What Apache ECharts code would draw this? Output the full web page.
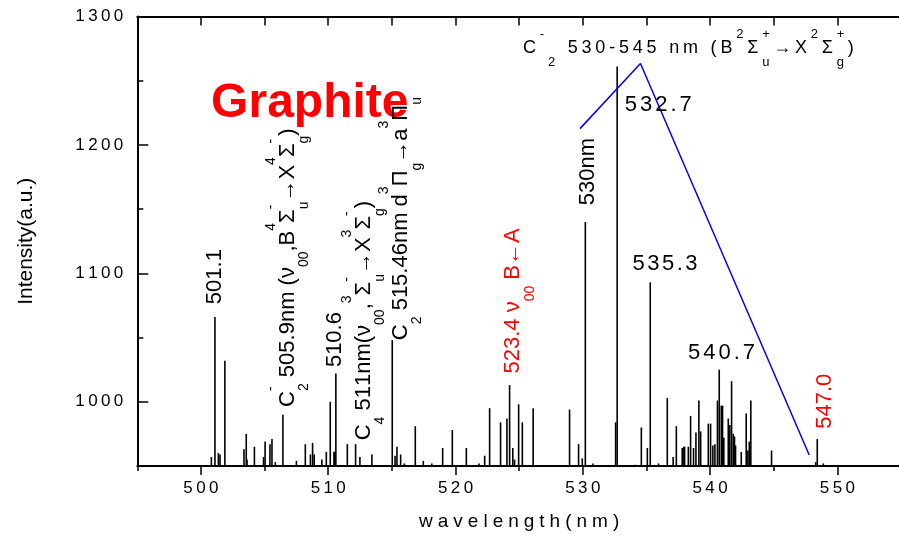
<!DOCTYPE html>
<html>
<head>
<meta charset="utf-8">
<script src="https://cdn.jsdelivr.net/npm/echarts@6/dist/echarts.min.js"></script>
<style>
  html, body { margin: 0; padding: 0; background: #ffffff; }
  #chart { width: 899px; height: 538px; }
</style>
</head>
<body>
<div id="chart"></div>
<script>
// Emission lines of the graphite plasma: wavelength (nm) and peak intensity (a.u.)
const wavelengths = [
  500.82, 501.10, 501.37, 501.50, 501.88,
  503.38, 503.56, 503.62, 504.20, 504.92, 505.04, 505.42, 505.58, 505.84, 506.44,
  507.50, 508.20, 508.60, 508.77, 508.90, 509.50, 509.85, 510.16, 510.45, 510.52, 510.60,
  511.50, 512.15, 512.49, 513.43,
  515.03, 515.25, 515.40, 515.69, 515.98, 516.84, 517.47, 518.14, 518.99, 519.75, 520.85,
  521.84, 522.29, 522.68, 523.54, 524.04, 524.25, 524.50, 524.64, 524.96, 525.25, 526.10,
  528.96, 529.67, 529.96, 530.20, 530.80, 532.58, 532.70, 534.13, 534.60, 535.07, 535.30, 535.95,
  536.64, 537.10, 537.35, 537.81, 537.94, 538.00, 538.29, 538.47, 538.70, 538.89, 539.12, 539.26,
  539.86, 540.04, 540.22, 540.38, 540.58, 540.72, 540.88, 540.98, 541.08, 541.43, 541.55, 541.69,
  541.82, 541.92, 542.00, 542.45, 542.84, 542.97, 543.08, 543.20, 544.83,
  548.30, 548.42, 548.90
];
const intensities = [
  957, 1066, 960, 959, 1032,
  963, 975, 955, 965, 957, 969, 967, 971, 953, 990,
  954, 967, 959, 968, 959, 955, 961, 1000, 961, 961, 1022,
  967, 967, 957, 959,
  1048, 958, 965, 959, 952, 981, 954, 952, 964, 978, 964,
  952, 958, 995, 984, 987, 1013, 964, 955, 998, 984, 995,
  994, 967, 956, 1140, 952, 984, 1261, 951, 980, 964, 1093, 952,
  1003, 957, 981, 964, 965, 965, 965, 989, 964, 976, 1001, 977,
  983, 983, 966, 967, 1001, 1025, 997, 997, 972, 987, 982, 1016,
  975, 973, 966, 961, 991, 962, 969, 1001, 962,
  953, 971, 952
];

// Axis ticks
const xTicks = [500, 510, 520, 530, 540, 550];
const xMinorTicks = [495, 505, 515, 525, 535, 545, 555];
const yTicks = [1000, 1100, 1200, 1300];
const yMinorTicks = [1050, 1150, 1250];

// Blue guide marking the C2 Swan band region (nm, a.u.)
const bandGuideX = [529.78, 534.53, 547.79];
const bandGuideY = [1212.7, 1263.4, 958.6];

const FONT = '"Liberation Sans", Arial, Helvetica, sans-serif';
const BLACK = '#000000';
const RED = '#ff0000';
const BLUE = '#0000ff';

// one rich token per character, so padding acts as letter spacing
function spaced(str, k, last) {
  const chars = Array.from(String(str));
  return chars.map((c, i) => '{' + (i < chars.length - 1 ? k : last) + '|' + c + '}').join('');
}
function tokens(parts) {
  let s = '';
  for (const [k, t] of parts) for (const ch of Array.from(t)) s += '{' + k + '|' + ch + '}';
  return s;
}
// normal / superscript / subscript styles; q and m are superscripts stacked over the next subscript
function richSet(o) {
  const base = { fontFamily: FONT, fill: o.color, color: o.color };
  const g = o.gap || 0;
  return {
    n: Object.assign({}, base, { fontSize: o.size, lineHeight: o.L, verticalAlign: 'middle', padding: [0, g, 0, 0] }),
    p: Object.assign({}, base, { fontSize: o.small, lineHeight: o.supH, verticalAlign: 'top', padding: [0, g, 0, 0] }),
    b: Object.assign({}, base, { fontSize: o.small, lineHeight: o.subH, verticalAlign: 'bottom', padding: [0, g, 0, 0] }),
    q: Object.assign({}, base, { fontSize: o.small, lineHeight: o.supH, verticalAlign: 'top', padding: [0, -0.584 * o.small, 0, 0] }),
    m: Object.assign({}, base, { fontSize: o.small, lineHeight: o.supH, verticalAlign: 'top', padding: [0, -0.333 * o.small, 0, 0] })
  };
}

const peakData = wavelengths.map((w, i) => [w, intensities[i]]);
const guideData = bandGuideX.map((w, i) => [w, bandGuideY[i]]);

const labelRich = {
  s: { fontSize: 17, fontFamily: FONT, color: BLACK, padding: [0, 3.4, 0, 0] },
  e: { fontSize: 17, fontFamily: FONT, color: BLACK }
};

const chart = echarts.init(document.getElementById('chart'), null, { renderer: 'canvas' });

chart.setOption({
  animation: false,
  backgroundColor: '#ffffff',
  textStyle: { fontFamily: FONT, color: BLACK },
  grid: { left: 137.3, top: 16.5, width: 763.7, height: 449.5, containLabel: false, outerBoundsMode: 'none' },
  xAxis: [
    {
      type: 'value', min: 495, max: 555, position: 'bottom',
      axisLine: { show: true, onZero: false, lineStyle: { color: BLACK, width: 2 } },
      axisTick: { show: true, inside: false, length: 9, customValues: xTicks, lineStyle: { color: BLACK, width: 1.5 } },
      axisLabel: { show: true, customValues: xTicks, margin: 14, formatter: v => spaced(v, 's', 'e'), rich: labelRich },
      splitLine: { show: false },
      name: spaced('wavelength(nm)', 'w', 'z'),
      nameLocation: 'middle', nameGap: 46,
      nameTextStyle: {
        rich: {
          w: { fontSize: 19, fontFamily: FONT, color: BLACK, padding: [0, 5.0, 0, 0] },
          z: { fontSize: 19, fontFamily: FONT, color: BLACK }
        }
      }
    },
    {
      type: 'value', min: 495, max: 555, position: 'bottom',
      axisLine: { show: false, onZero: false },
      axisTick: { show: true, inside: false, length: 5, customValues: xMinorTicks, lineStyle: { color: BLACK, width: 1.5 } },
      axisLabel: { show: false },
      splitLine: { show: false }
    },
    {
      type: 'value', min: 495, max: 555, position: 'top',
      axisLine: { show: true, onZero: false, lineStyle: { color: BLACK, width: 2 } },
      axisTick: { show: true, inside: true, length: 9, customValues: xTicks.concat(xMinorTicks), lineStyle: { color: BLACK, width: 1.5 } },
      axisLabel: { show: false },
      splitLine: { show: false }
    }
  ],
  yAxis: [
    {
      type: 'value', min: 950, max: 1300, position: 'left',
      axisLine: { show: true, onZero: false, lineStyle: { color: BLACK, width: 2 } },
      axisTick: { show: true, inside: true, length: 11, customValues: yTicks, lineStyle: { color: BLACK, width: 1.5 } },
      axisLabel: { show: true, customValues: yTicks, margin: 14, formatter: v => spaced(v, 's', 'e'), rich: labelRich },
      splitLine: { show: false },
      name: 'Intensity(a.u.)',
      nameLocation: 'middle', nameRotate: 90, nameGap: 101,
      nameTextStyle: { fontSize: 21, fontFamily: FONT, color: BLACK }
    },
    {
      type: 'value', min: 950, max: 1300, position: 'left',
      axisLine: { show: false, onZero: false },
      axisTick: { show: true, inside: true, length: 6, customValues: yMinorTicks, lineStyle: { color: BLACK, width: 1.5 } },
      axisLabel: { show: false },
      splitLine: { show: false }
    }
  ],
  series: [
    {
      type: 'bar', xAxisIndex: 0, yAxisIndex: 0,
      data: peakData, barWidth: 1.6,
      itemStyle: { color: BLACK },
      silent: true
    },
    {
      type: 'line', xAxisIndex: 0, yAxisIndex: 0,
      data: guideData, symbol: 'none',
      lineStyle: { color: BLUE, width: 1.5 },
      silent: true
    }
  ]
});

// Peak annotations, anchored in data units (nm, a.u.)
const vertRich = o => richSet(Object.assign({ size: 22, small: 14, L: 47, supH: 21, subH: 14 }, o));
const notes = [
  { at: [501.11, 1076], vertical: true, color: BLACK, parts: [['n', '501.1']] },
  { at: [506.80, 996], vertical: true, color: BLACK,
    parts: [['n', 'C'], ['m', '-'], ['b', '2'], ['n', ' 505.9nm (ν'], ['b', '00'], ['n', ',B'], ['p', '4'], ['n', 'Σ'], ['m', '-'], ['b', 'u'],
            ['n', '→X'], ['p', '4'], ['n', 'Σ'], ['m', '-'], ['b', 'g'], ['n', ')']] },
  { at: [510.53, 1027], vertical: true, color: BLACK, parts: [['n', '510.6']] },
  { at: [512.77, 970], vertical: true, color: BLACK,
    parts: [['n', 'C'], ['b', '4'], ['n', ' 511nm(ν'], ['b', '00'], ['n', ','], ['p', '3'], ['n', 'Σ'], ['m', '-'], ['b', 'u'],
            ['n', '→X'], ['p', '3'], ['n', 'Σ'], ['m', '-'], ['b', 'g'], ['n', ')']] },
  { at: [515.69, 1048], vertical: true, color: BLACK,
    parts: [['n', 'C'], ['b', '2'], ['n', ' 515.46nm d'], ['p', '3'], ['n', 'Π'], ['b', 'g'], ['n', '→a'], ['p', '3'], ['n', 'Π'], ['b', 'u']] },
  { at: [524.53, 1022], vertical: true, color: RED, parts: [['n', '523.4 ν'], ['b', '00'], ['n', ' B←A']] },
  { at: [530.43, 1153], vertical: true, color: BLACK, parts: [['n', '530nm']] },
  { at: [549.02, 979], vertical: true, color: RED, parts: [['n', '547.0']] },
  { at: [533.30, 1231], color: BLACK, gap: 3, parts: [['n', '532.7']] },
  { at: [533.90, 1107], color: BLACK, gap: 2.5, parts: [['n', '535.3']] },
  { at: [538.26, 1038], color: BLACK, gap: 3, parts: [['n', '540.7']] },
  { at: [525.30, 1275.5], color: BLACK, gap: 3.8, size: 18, small: 13, L: 41, supH: 29, subH: 13,
    parts: [['n', 'C'], ['p', '-'], ['b', '2'], ['n', ' 530-545 nm (B'], ['p', '2'], ['n', 'Σ'], ['q', '+'], ['b', 'u'],
            ['n', '→X'], ['p', '2'], ['n', 'Σ'], ['q', '+'], ['b', 'g'], ['n', ')']] }
];

const graphics = notes.map(nt => {
  const pt = chart.convertToPixel({ xAxisIndex: 0, yAxisIndex: 0 }, nt.at);
  const rich = nt.size
    ? richSet({ size: nt.size, small: nt.small, L: nt.L, supH: nt.supH, subH: nt.subH, gap: nt.gap, color: nt.color })
    : vertRich({ color: nt.color, gap: nt.gap || 0 });
  return {
    type: 'text', x: pt[0], y: pt[1],
    rotation: nt.vertical ? Math.PI / 2 : 0,
    silent: true, z: 10,
    style: {
      text: tokens(nt.parts), rich: rich,
      fontFamily: FONT, fontSize: 22, fill: nt.color,
      align: 'left', verticalAlign: 'middle',
      textAlign: 'left', textVerticalAlign: 'middle'
    }
  };
});

// Sample name
const gp = chart.convertToPixel({ xAxisIndex: 0, yAxisIndex: 0 }, [500.80, 1232]);
graphics.push({
  type: 'text', x: gp[0], y: gp[1], silent: true, z: 9,
  style: {
    text: 'Graphite', fontFamily: FONT, fontSize: 48, fontWeight: 'bold', fill: RED,
    align: 'left', verticalAlign: 'middle', textAlign: 'left', textVerticalAlign: 'middle'
  }
});

chart.setOption({ graphic: graphics });
</script>
</body>
</html>
